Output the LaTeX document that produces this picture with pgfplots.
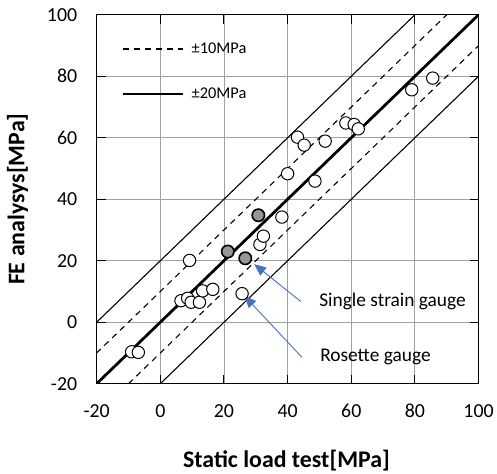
\documentclass[border=0pt]{standalone}
\usepackage{fontspec}
\setmainfont{Carlito}
\usepackage{pgfplots}
\pgfplotsset{compat=1.18}
\usetikzlibrary{arrows.meta}
\definecolor{gridgray}{RGB}{160,160,160}
\definecolor{arrowblue}{RGB}{68,114,196}
\definecolor{markgray}{RGB}{150,150,150}

\begin{document}
\begin{tikzpicture}
\begin{axis}[
    scale only axis,
    width=383bp, height=370bp,
    xmin=-20, xmax=100, ymin=-20, ymax=100,
    xtick={-20,0,...,100}, ytick={-20,0,...,100},
    grid=major,
    major grid style={gridgray, line width=0.9pt},
    axis line style={black, line width=1.4pt},
    tick style={black, line width=1pt},
    tick align=inside,
    major tick length=9bp,
    ticklabel style={font=\fontsize{20}{22}\selectfont},
    xticklabel style={yshift=-17bp},
    yticklabel style={xshift=-16bp},
    /pgf/number format/assume math mode=true,
    xlabel={\textbf{Static load test[MPa]}},
    ylabel={\textbf{FE analysys[MPa]}},
    label style={font=\fontsize{24}{26}\selectfont},
    xlabel style={at={(axis description cs:0.497,-0.207)}, anchor=center},
    ylabel style={at={(axis description cs:-0.207,0.5)}, anchor=center},
    clip=true,
    legend cell align=left,
    legend style={at={(0.06,0.935)}, anchor=north west, draw=none, fill=none,
        font=\fontsize{16.5}{18}\selectfont, row sep=29bp},
    legend image code/.code={\draw[#1] (0bp,0bp) -- (60bp,0bp); \path (66bp,0bp);},
]
\addlegendimage{black, line width=1.1pt, dash pattern=on 6bp off 5bp}
\addlegendentry{±10MPa}
\addlegendimage{black, line width=1.1pt}
\addlegendentry{±20MPa}

% reference lines
\addplot[black, line width=1.1pt, forget plot] coordinates {(-40,-20) (100,120)};
\addplot[black, line width=1.1pt, forget plot] coordinates {(0,-20) (120,100)};
\addplot[black, line width=1.1pt, dash pattern=on 6bp off 5bp, forget plot] coordinates {(-30,-20) (100,110)};
\addplot[black, line width=1.1pt, dash pattern=on 6bp off 5bp, forget plot] coordinates {(-10,-20) (110,100)};
\addplot[black, line width=2.8pt, forget plot] coordinates {(-20,-20) (100,100)};

% rosette gauge
\addplot[only marks, mark=*, mark size=6.2bp, mark options={fill=white, draw=black, line width=1pt}, forget plot] table {
x y
-9.0 -9.6
-6.9 -9.8
6.5 7.0
8.6 7.8
9.7 6.5
12.3 6.5
13.3 10.2
16.5 10.7
9.2 20.1
25.7 9.3
31.3 25.3
32.4 28.0
38.2 34.2
40.0 48.3
48.6 45.9
43.1 60.2
45.2 57.6
51.8 58.9
58.3 64.8
60.9 64.3
62.2 62.9
79.0 75.6
85.6 79.4
};

% single strain gauge
\addplot[only marks, mark=*, mark size=6.2bp, mark options={fill=markgray, draw=black, line width=1.6pt}, forget plot] table {
x y
21.2 23.0
26.7 20.8
30.8 34.8
};

\draw[arrowblue, line width=0.9pt, -{Triangle[length=12bp,width=10bp]}] (axis cs:44.2,6.7) -- (axis cs:29.5,18.9);
\draw[arrowblue, line width=0.9pt, -{Triangle[length=12bp,width=10bp]}] (axis cs:44.5,-11.4) -- (axis cs:26.4,8.6);
\node[anchor=west, font=\fontsize{19.5}{21}\selectfont, inner sep=0pt] at (axis cs:49.9,6.7) {Single strain gauge};
\node[anchor=west, font=\fontsize{19.5}{21}\selectfont, inner sep=0pt] at (axis cs:50.2,-11.4) {Rosette gauge};

\coordinate (bbsw) at (rel axis cs:-0.253,-0.222);
\coordinate (bbne) at (rel axis cs:1.044,1.04);
\end{axis}
\path (bbsw) rectangle (bbne);
\end{tikzpicture}
\end{document}
